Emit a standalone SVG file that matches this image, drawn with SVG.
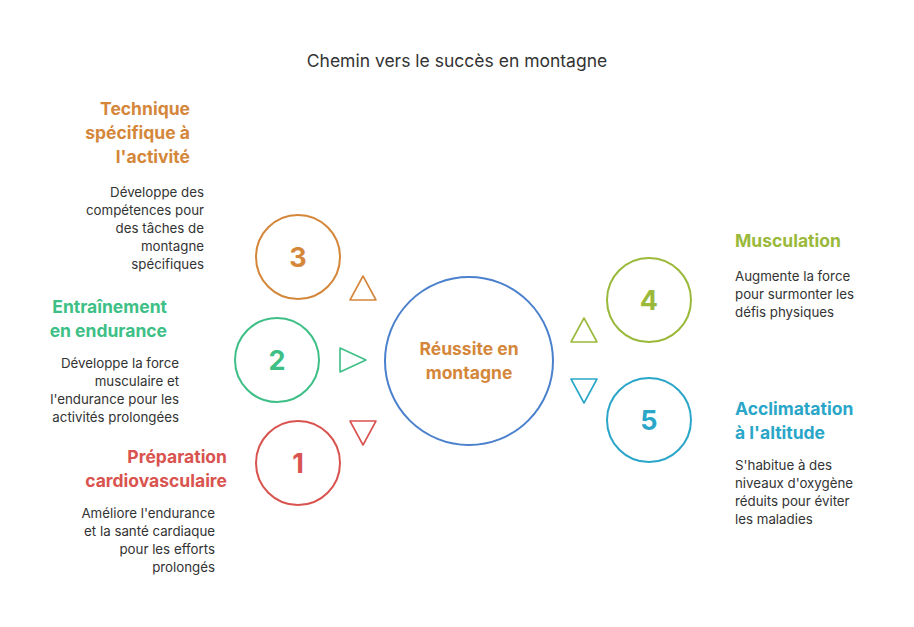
<svg xmlns="http://www.w3.org/2000/svg" width="914" height="627" viewBox="0 0 914 627">
<style>
text{font-family:Inter,Roboto,"Liberation Sans",sans-serif}
.h{font-size:17.5px;font-weight:bold}
.b{font-size:13.3px;fill:#333}
.n{font-size:27px;font-weight:bold;text-anchor:middle}
.c{fill:none;stroke-width:2}
.t{fill:none;stroke-width:1.6;stroke-linejoin:round}
</style>
<rect width="914" height="627" fill="#fff"/>
<text x="457" y="67" text-anchor="middle" font-size="17.5" fill="#333">Chemin vers le succès en montagne</text>
<g id="center"><circle class="c" cx="469" cy="361" r="84" stroke="#4a80cc"/>
<text class="h" x="469" y="355" text-anchor="middle" fill="#d4873a">Réussite en</text>
<text class="h" x="469" y="379" text-anchor="middle" fill="#d4873a">montagne</text></g>
<g id="connectors">
<polygon class="t" stroke="#d4873a" points="350,300 376,300 363,276"/>
<polygon class="t" stroke="#3dbf86" points="340,348 340,372 366,360"/>
<polygon class="t" stroke="#d9534f" points="350,421 376,421 363,445"/>
<polygon class="t" stroke="#9ab93a" points="571,342 597,342 584,318"/>
<polygon class="t" stroke="#2aa6c8" points="571,379 597,379 584,403"/>
</g>
<g id="n3"><circle class="c" cx="298" cy="257" r="42" stroke="#d4873a"/><text class="n" x="298" y="267" fill="#d4873a">3</text>
<g text-anchor="end"><text class="h" x="190" y="115" fill="#d4873a">Technique</text><text class="h" x="190" y="139" fill="#d4873a">spécifique à</text><text class="h" x="190" y="163" fill="#d4873a">l'activité</text>
<text class="b" x="204" y="197">Développe des</text><text class="b" x="204" y="215">compétences pour</text><text class="b" x="204" y="233">des tâches de</text><text class="b" x="204" y="251">montagne</text><text class="b" x="204" y="269">spécifiques</text></g></g>
<g id="n2"><circle class="c" cx="277" cy="360" r="42" stroke="#3dbf86"/><text class="n" x="277" y="370" fill="#3dbf86">2</text>
<g text-anchor="end"><text class="h" x="167" y="313" fill="#3dbf86">Entraînement</text><text class="h" x="167" y="337" fill="#3dbf86">en endurance</text>
<text class="b" x="179" y="368">Développe la force</text><text class="b" x="179" y="386">musculaire et</text><text class="b" x="179" y="404">l'endurance pour les</text><text class="b" x="179" y="422">activités prolongées</text></g></g>
<g id="n1"><circle class="c" cx="298" cy="463" r="42" stroke="#d9534f"/><text class="n" x="298" y="473" fill="#d9534f">1</text>
<g text-anchor="end"><text class="h" x="227" y="463" fill="#d9534f">Préparation</text><text class="h" x="227" y="487" fill="#d9534f">cardiovasculaire</text>
<text class="b" x="215" y="518">Améliore l'endurance</text><text class="b" x="215" y="536">et la santé cardiaque</text><text class="b" x="215" y="554">pour les efforts</text><text class="b" x="215" y="572">prolongés</text></g></g>
<g id="n4"><circle class="c" cx="649" cy="300" r="42" stroke="#9ab93a"/><text class="n" x="649" y="310" fill="#9ab93a">4</text>
<text class="h" x="735" y="247" fill="#9ab93a">Musculation</text>
<text class="b" x="735" y="281">Augmente la force</text><text class="b" x="735" y="299">pour surmonter les</text><text class="b" x="735" y="317">défis physiques</text></g>
<g id="n5"><circle class="c" cx="649" cy="420" r="42" stroke="#2aa6c8"/><text class="n" x="649" y="430" fill="#2aa6c8">5</text>
<text class="h" x="735" y="415" fill="#2aa6c8">Acclimatation</text><text class="h" x="735" y="439" fill="#2aa6c8">à l'altitude</text>
<text class="b" x="735" y="470">S'habitue à des</text><text class="b" x="735" y="488">niveaux d'oxygène</text><text class="b" x="735" y="506">réduits pour éviter</text><text class="b" x="735" y="524">les maladies</text></g>
</svg>
